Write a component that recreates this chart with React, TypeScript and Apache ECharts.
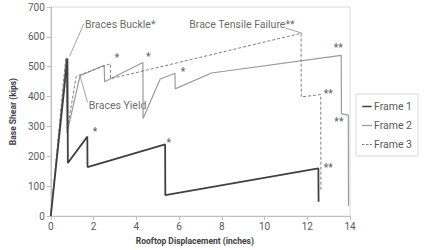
import React, { useEffect, useRef } from "react";
import * as echarts from "echarts";

const xTicks = { min: 0, max: 14, interval: 2 };
const yTicks = { min: 0, max: 700, interval: 100 };

const frame1: number[][] = [
  [0, 0], [0.78, 528], [0.8, 178], [1.71, 266], [1.72, 164], [5.35, 240],
  [5.36, 70], [12.52, 160], [12.53, 48],
];
const frame2: number[][] = [
  [0, 0], [0.73, 530], [0.76, 278], [1.37, 470], [2.5, 505], [2.52, 450],
  [4.31, 514], [4.32, 327], [5.12, 459], [5.81, 478], [5.82, 426], [7.52, 479],
  [13.59, 538], [13.6, 343], [13.92, 338], [13.93, 35],
];
const frame3: number[][] = [
  [0, 0], [0.7, 528], [0.8, 300], [1.19, 468], [2.79, 510], [2.8, 460],
  [11.71, 612], [11.72, 399], [12.63, 407], [12.64, 88],
];

const singleStars: number[][] = [
  [3.1, 532], [4.56, 534], [6.19, 484], [2.07, 282], [5.52, 248],
];
const doubleStars: number[][] = [
  [13.45, 564], [12.98, 412], [13.48, 318], [12.98, 164],
];

const notes = [
  { text: "Braces Buckle*", at: [1.6, 643], leader: [[1.54, 643], [0.88, 535]] },
  { text: "Braces Yield", at: [1.78, 370], leader: [[1.72, 381], [1.37, 470]] },
  { text: "Brace Tensile Failure**", at: [6.48, 643], leader: [[10.97, 630], [11.77, 612]] },
];

const FONT = "Roboto";

export default function App() {
  const ref = useRef<HTMLDivElement>(null);
  useEffect(() => {
    if (!ref.current) return;
    const chart = echarts.init(ref.current, undefined, { renderer: "svg" });
    const leaderSeries = notes.map((n) => ({
      type: "line",
      data: n.leader,
      symbol: "none",
      silent: true,
      lineStyle: { color: "#8c8c8c", width: 0.8 },
      z: 1,
    }));
    chart.setOption({
      animation: false,
      backgroundColor: "#ffffff",
      textStyle: { fontFamily: FONT },
      grid: {
        left: 44, right: 74, top: 7, bottom: 33,
        show: true, borderColor: "#d9d9d9", borderWidth: 1,
      },
      legend: {
        data: [
          { name: "Frame 1", icon: "path://M0,0H10V1.6H0Z" },
          { name: "Frame 2", icon: "path://M0,0H10V1.2H0Z" },
          { name: "Frame 3", icon: "path://M0,0H2.5V1H0ZM4,0H6.5V1H4ZM8,0H10V1H8Z" },
        ],
        orient: "vertical",
        left: 356,
        top: 94,
        padding: [7, 6, 6, 6],
        itemGap: 8,
        itemWidth: 10,
        itemHeight: 1.5,
        borderColor: "#d9d9d9",
        borderWidth: 1,
        textStyle: { fontSize: 10.5, color: "#595959", fontFamily: FONT, padding: [0, 0, 0, -3] },
      },
      xAxis: {
        type: "value",
        ...xTicks,
        name: "Rooftop Displacement (inches)",
        nameLocation: "middle",
        nameGap: 17,
        nameTextStyle: {
          fontWeight: "bold", fontSize: 8.5, color: "#404040", fontFamily: FONT,
          padding: [0, 11, 0, 0],
        },
        axisLine: { show: true, lineStyle: { color: "#bfbfbf" } },
        axisTick: { show: true, length: 4, lineStyle: { color: "#bfbfbf" } },
        axisLabel: { color: "#595959", fontSize: 10, margin: 5 },
        splitLine: { show: false },
      },
      yAxis: {
        type: "value",
        ...yTicks,
        name: "Base Shear (kips)",
        nameLocation: "middle",
        nameGap: 27,
        nameTextStyle: { fontWeight: "bold", fontSize: 8.5, color: "#404040", fontFamily: FONT },
        axisLine: { show: true, lineStyle: { color: "#bfbfbf" } },
        axisTick: { show: true, length: 4, lineStyle: { color: "#bfbfbf" } },
        axisLabel: { color: "#595959", fontSize: 10, margin: 6 },
        splitLine: { show: false },
      },
      series: [
        {
          name: "Frame 1", type: "line", data: frame1, symbol: "none",
          lineStyle: { color: "#404040", width: 1.8 }, itemStyle: { color: "#404040" }, z: 4,
        },
        {
          name: "Frame 2", type: "line", data: frame2, symbol: "none",
          lineStyle: { color: "#9a9a9a", width: 1.2 }, itemStyle: { color: "#9a9a9a" }, z: 3,
        },
        {
          name: "Frame 3", type: "line", data: frame3, symbol: "none",
          lineStyle: { color: "#7f7f7f", width: 1, type: [3, 2] }, itemStyle: { color: "#7f7f7f" }, z: 3,
        },
        ...leaderSeries,
        {
          type: "scatter", silent: true, symbolSize: 0,
          data: notes.map((n) => ({ value: n.at, name: n.text })),
          label: {
            show: true, position: [0, 0], align: "left", verticalAlign: "middle",
            formatter: "{b}", fontSize: 10.5, color: "#404040", fontFamily: FONT,
          },
        },
        {
          type: "scatter", silent: true, symbolSize: 0,
          data: singleStars.map((p) => ({ value: p, name: "*" })),
          label: {
            show: true, position: [0, 0], align: "center", verticalAlign: "middle",
            formatter: "{b}", fontSize: 10, fontWeight: "bold", color: "#404040",
          },
        },
        {
          type: "scatter", silent: true, symbolSize: 0,
          data: doubleStars.map((p) => ({ value: p, name: "**" })),
          label: {
            show: true, position: [0, 0], align: "center", verticalAlign: "middle",
            formatter: "{b}", fontSize: 10, fontWeight: "bold", color: "#404040",
          },
        },
      ],
    });
    return () => chart.dispose();
  }, []);
  return (
    <div
      ref={ref}
      style={{ position: "fixed", left: 0, top: 0, width: 424, height: 250, background: "#fff" }}
    />
  );
}
